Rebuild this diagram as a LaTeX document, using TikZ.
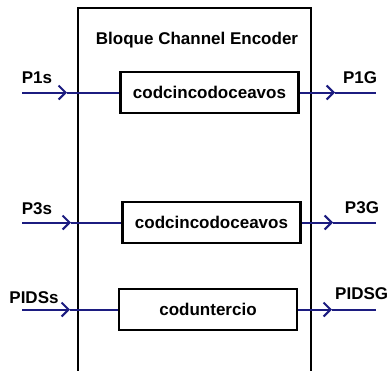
\documentclass[tikz,border=0pt]{standalone}
\usepackage{fontspec}
\setmainfont{Liberation Sans}
\usetikzlibrary{arrows.meta}
\definecolor{sig}{RGB}{28,28,128}
\tikzset{
  x=1pt, y=-1pt,
  blockbox/.style={draw=black, line width=2.6pt, fill=white, minimum width=178pt,
    minimum height=41pt, inner sep=0pt, font=\fontsize{17}{20}\selectfont\bfseries},
  portlabel/.style={inner sep=0pt, font=\fontsize{17}{20}\selectfont\bfseries},
  wire/.style={draw=sig, line width=2pt},
  wirearrow/.style={wire, -{Straight Barb[length=7pt,width=14pt,line width=2pt]}},
}
\begin{document}
\begin{tikzpicture}
\useasboundingbox (0,0) rectangle (387,370);
% enclosing block, open at the bottom
\draw[line width=2pt] (78,380) -- (78,8) -- (311,8) -- (311,380);
\node[portlabel, anchor=base] (title) at (197,44) {Bloque Channel Encoder};

% inner encoders
\node[blockbox] (enc1) at (209.5,92.5) {codcincodoceavos};
\node[blockbox] (enc2) at (211.5,222.5) {codcincodoceavos};
\node[blockbox] (enc3) at (208,309.5) {coduntercio};

% input side
\coordinate (in1) at (22,92.5);
\coordinate (in2) at (22,222.5);
\coordinate (in3) at (22,309.5);
\coordinate (ti1) at (67,92.5);
\coordinate (ti2) at (71,222.5);
\coordinate (ti3) at (70,309.5);
\draw[wirearrow] (in1) -- (ti1);
\draw[wire] (ti1) -- (enc1.west);
\draw[wirearrow] (in2) -- (ti2);
\draw[wire] (ti2) -- (enc2.west);
\draw[wirearrow] (in3) -- (ti3);
\draw[wire] (ti3) -- (enc3.west);

% output side
\coordinate (to1) at (335,92.5);
\coordinate (to2) at (333,222.5);
\coordinate (to3) at (332,309.5);
\coordinate (out1) at (376,92.5);
\coordinate (out2) at (376,222.5);
\coordinate (out3) at (376,309.5);
\draw[wirearrow] (enc1.east) -- (to1);
\draw[wire] (to1) -- (out1);
\draw[wirearrow] (enc2.east) -- (to2);
\draw[wire] (to2) -- (out2);
\draw[wirearrow] (enc3.east) -- (to3);
\draw[wire] (to3) -- (out3);

% port labels
\node[portlabel] (p1s) at (37,78) {P1s};
\node[portlabel] (p3s) at (37,209) {P3s};
\node[portlabel] (pidss) at (34,298) {PIDSs};
\node[portlabel] (p1g) at (360,78) {P1G};
\node[portlabel] (p3g) at (362,208) {P3G};
\node[portlabel, anchor=west] (pidsg) at (335,294) {PIDSG};
\end{tikzpicture}
\end{document}
